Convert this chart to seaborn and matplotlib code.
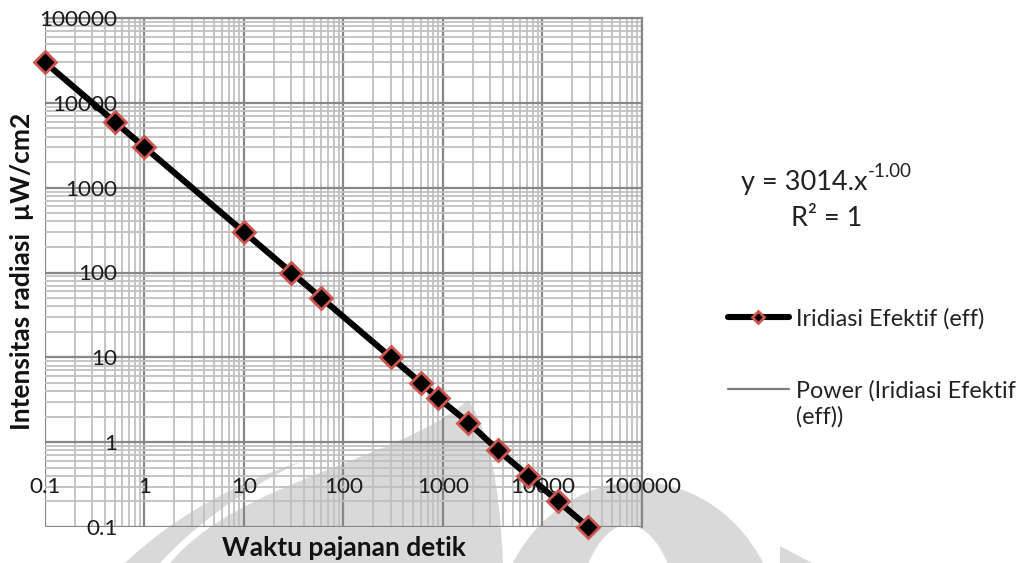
import numpy as np
import pandas as pd
import matplotlib
matplotlib.use("Agg")
import matplotlib.pyplot as plt
from matplotlib.path import Path
from matplotlib.patches import PathPatch, Ellipse, Polygon
from matplotlib.ticker import LogLocator, NullFormatter
import seaborn as sns

# Exposure time (s) and effective irradiance (uW/cm2)
waktu = [0.1, 0.5, 1, 10, 30, 60, 300, 600, 900, 1800, 3600, 7200, 14400, 28800]
intensitas = [30000, 6000, 3000, 300, 100, 50, 10, 5, 3.3, 1.7, 0.8, 0.4, 0.2, 0.1]

# Power-law trendline coefficients
koef_a = 3014
koef_b = -1.00
r_kuadrat = 1

decades = [0.1, 1, 10, 100, 1000, 10000, 100000]
tick_labels = ["0.1", "1", "10", "100", "1000", "10000", "100000"]

sns.set_theme(style="white")
plt.rcParams["font.family"] = ["Lato", "DejaVu Sans"]

W, H = 1020, 563
fig = plt.figure(figsize=(W / 100, H / 100), dpi=100)
fig.patch.set_facecolor("white")

# faint emblem in the page background
bg = fig.add_axes([0, 0, 1, 1], zorder=0)
bg.set_xlim(0, W)
bg.set_ylim(H, 0)
bg.axis("off")
wm = "#d9d9d9"
central = Path(
    [(170, 563), (240, 480), (400, 460), (468, 400), (498, 440), (503, 563), (170, 563)],
    [Path.MOVETO, Path.CURVE4, Path.CURVE4, Path.CURVE4, Path.CURVE3, Path.CURVE3, Path.CLOSEPOLY],
)
bg.add_patch(PathPatch(central, facecolor=wm, edgecolor="none"))
sliver = Path(
    [(125, 563), (170, 520), (230, 485), (300, 462), (240, 492), (195, 525), (160, 563), (125, 563)],
    [Path.MOVETO, Path.CURVE4, Path.CURVE4, Path.CURVE4, Path.CURVE4, Path.CURVE4, Path.CURVE4, Path.CLOSEPOLY],
)
bg.add_patch(PathPatch(sliver, facecolor=wm, edgecolor="none"))
bg.add_patch(Ellipse((638, 645), 290, 326, facecolor=wm, edgecolor="none"))
bg.add_patch(Ellipse((628, 650), 110, 250, facecolor="white", edgecolor="none"))
bg.add_patch(Polygon([(780, 546), (812, 563), (780, 563)], facecolor=wm, edgecolor="none"))

rect = [45 / W, 1 - 527 / H, (642 - 45) / W, (527 - 18) / H]


def log_axes(a):
    a.set_xscale("log")
    a.set_yscale("log")
    a.set_xlim(0.1, 100000)
    a.set_ylim(0.1, 100000)
    a.set_facecolor("none")
    for axis in (a.xaxis, a.yaxis):
        axis.set_minor_locator(LogLocator(base=10, subs=np.arange(2, 10), numticks=100))
        axis.set_minor_formatter(NullFormatter())


# log-log grid paper
ax_grid = fig.add_axes(rect, zorder=1)
log_axes(ax_grid)
ax_grid.set_xticks(decades)
ax_grid.set_yticks(decades)
ax_grid.grid(which="minor", color="#c0c0c0", lw=1.3)
ax_grid.grid(which="major", color="#878787", lw=1.6)
ax_grid.tick_params(which="both", length=0, labelbottom=False, labelleft=False)
for side in ("bottom", "left"):
    ax_grid.spines[side].set_visible(False)
for side in ("top", "right"):
    ax_grid.spines[side].set_color("#878787")
    ax_grid.spines[side].set_linewidth(1.6)

# data, tick labels and legend on top of the grid
ax = fig.add_axes(rect, zorder=2)
log_axes(ax)
ax.grid(False)

df = pd.DataFrame({"waktu": waktu, "intensitas": intensitas})
x_fit = np.array([min(waktu), max(waktu)])
fit = pd.DataFrame({"waktu": x_fit, "intensitas": koef_a * x_fit ** koef_b})

sns.lineplot(data=fit, x="waktu", y="intensitas", ax=ax, color="#7f7f7f", lw=1.6,
             label="Power (Iridiasi Efektif", zorder=3)
sns.lineplot(data=df, x="waktu", y="intensitas", ax=ax, color="black", lw=4.4,
             marker="D", markersize=11.5, markerfacecolor="black",
             markeredgecolor="#cd5550", markeredgewidth=2.0,
             label="Iridiasi Efektif (eff)", zorder=4, clip_on=False)
ax.set_xlim(0.1, 100000)
ax.set_ylim(0.1, 100000)

ax.set_xticks(decades, labels=tick_labels)
ax.set_yticks(decades, labels=tick_labels)
# axes cross inside the plot area, labels sit next to the crossing lines
ax.spines["bottom"].set_position(("data", 0.40))
ax.spines["left"].set_position(("data", 0.57))
for s in ax.spines.values():
    s.set_visible(False)
ax.tick_params(which="both", length=0, labelsize=16.2, labelcolor="#1c1c1c")
ax.tick_params(axis="x", pad=1)
ax.tick_params(axis="y", pad=2)
ax.set_xlabel("")
ax.set_ylabel("")

fig.text(344 / W, 1 - 548 / H, "Waktu pajanan detik", ha="center", va="center",
         fontsize=19, fontweight="bold", color="#111111")
fig.text(22 / W, 1 - 271 / H, "Intensitas radiasi  \u00b5W/cm2", ha="center", va="center",
         rotation=90, fontsize=19, fontweight="bold", color="#111111")

# trendline equation with its exponent set as a superscript
eq = fig.text(741 / W, 1 - 183 / H, f"y = {koef_a}.x", ha="left", va="center",
              fontsize=19.5, color="#222222")
ax.annotate(f"{koef_b:.2f}", xy=(1, 0.62), xycoords=eq, ha="left", va="bottom",
            fontsize=13.5, color="#222222", annotation_clip=False)
fig.text(827 / W, 1 - 219 / H, f"R\u00b2 = {r_kuadrat}", ha="center", va="center",
         fontsize=19.5, color="#222222")

handles, labels = ax.get_legend_handles_labels()
order = [labels.index("Iridiasi Efektif (eff)"), labels.index("Power (Iridiasi Efektif")]
leg = ax.legend([handles[i] for i in order], [labels[i] for i in order],
                loc="upper left", bbox_to_anchor=(728 / W, 1 - 308 / H),
                bbox_transform=fig.transFigure, frameon=False, fontsize=16.8,
                borderpad=0, borderaxespad=0, handlelength=2.6, handletextpad=0.3,
                labelspacing=2.15, markerscale=0.55)
leg.set_zorder(5)
for t in leg.get_texts():
    t.set_color("#222222")
# wrapped remainder of the second legend label
ax.annotate("(eff))", xy=(0, 0), xycoords=leg.get_texts()[1], xytext=(0, -5),
            textcoords="offset pixels", ha="left", va="top", fontsize=16.8,
            color="#222222", annotation_clip=False, zorder=10)

fig.savefig("out.png", dpi=100, facecolor="white")
